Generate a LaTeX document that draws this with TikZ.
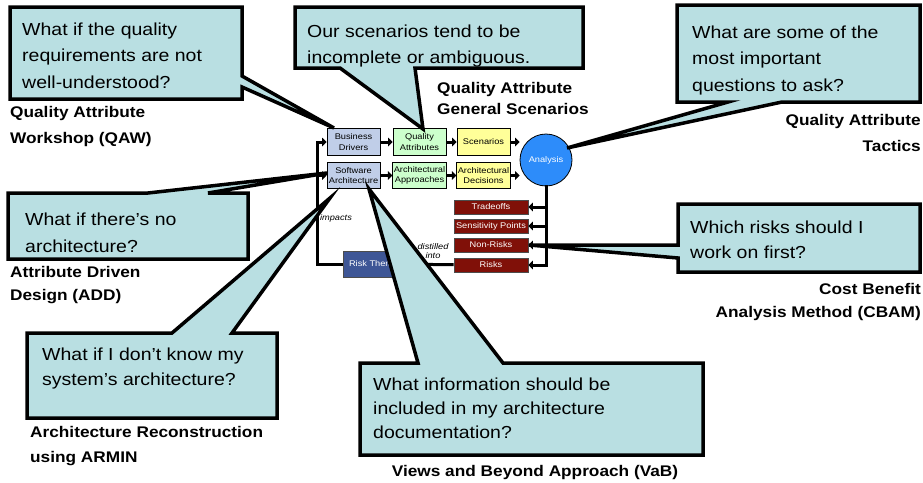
\documentclass[tikz,border=0pt]{standalone}
\usepackage{fontspec}
\setmainfont[FakeStretch=1.12]{Liberation Sans}
\usetikzlibrary{arrows.meta}

\definecolor{calloutfill}{RGB}{185,223,226}
\definecolor{driverblue}{RGB}{192,206,232}
\definecolor{approachgreen}{RGB}{204,255,204}
\definecolor{decisionyellow}{RGB}{255,255,153}
\definecolor{analysisblue}{RGB}{45,140,250}
\definecolor{riskred}{RGB}{128,16,8}
\definecolor{themeblue}{RGB}{62,86,150}

\newcommand\qfont[1]{\fontsize{17.4}{#1}\selectfont}
\newcommand\mfont[1]{\fontsize{15.4}{#1}\selectfont\bfseries}
\newcommand\sfont{\fontsize{8.25}{10.5}\selectfont}

\begin{document}
\begin{tikzpicture}[x=1pt,y=-1pt,
  flowbox/.style={draw=black,line width=0.8pt,minimum width=53pt,minimum height=26.5pt,
    inner sep=1pt,align=center,font=\sfont},
  riskbox/.style={draw=black!70,line width=0.6pt,fill=riskred,text=white,
    minimum width=74pt,minimum height=14pt,inner sep=0pt,font=\sfont},
  flow/.style={line width=3pt,-{Triangle[length=4.5pt,width=8.5pt]}},
  callout/.style={draw=black,line width=3.5pt,fill=calloutfill},
  question/.style={anchor=base west,align=left,inner sep=0pt,font=\qfont{25}},
  method/.style={anchor=base west,align=left,inner sep=0pt,font=\mfont{24}},
  methodr/.style={anchor=base east,align=right,inner sep=0pt,font=\mfont{24}},
  remark/.style={inner sep=0pt,font=\sfont\itshape}]

  \useasboundingbox (0,0) rectangle (923,482);

  % Define nodes for the analysis flow
  \node[flowbox,fill=driverblue] (bd) at (353.5,142) {Business\\Drivers};
  \node[flowbox,fill=driverblue] (sa) at (353.5,175.5) {Software\\Architecture};
  \node[flowbox,fill=approachgreen] (qa) at (419.5,142) {Quality\\Attributes};
  \node[flowbox,fill=approachgreen] (aa) at (419.5,175.5) {Architectural\\Approaches};
  \node[flowbox,fill=decisionyellow] (sc) at (483.5,142) {Scenarios};
  \node[flowbox,fill=decisionyellow] (ad) at (483.5,175.5) {Architectural\\Decisions};
  \node[circle,draw=black,line width=0.8pt,fill=analysisblue,text=white,minimum size=52pt,
    inner sep=0pt,font=\sfont] (an) at (546,160) {Analysis};
  \node[riskbox] (to) at (491,207) {Tradeoffs};
  \node[riskbox] (sp) at (491,226) {Sensitivity Points};
  \node[riskbox] (nr) at (491,245) {Non-Risks};
  \node[riskbox] (rk) at (491,265) {Risks};
  \node[draw=black!70,line width=0.6pt,fill=themeblue,text=white,minimum width=66pt,
    minimum height=26pt,inner sep=0pt,font=\sfont] (rt) at (376,264) {Risk Themes};
  \coordinate (corner) at (317,142);

  % Draw arrows
  \draw[flow] (bd) -- (qa);
  \draw[flow] (qa) -- (sc);
  \draw[flow] (sc.east) -- (sc.east -| an.west);
  \draw[flow] (sa) -- (aa);
  \draw[flow] (aa) -- (ad);
  \draw[flow] (ad.east) -- (ad.east -| an.west);
  \draw[line width=3pt,line cap=rect] (an.south) -- (an.south |- rk.east);
  \foreach \b in {to,sp,nr,rk}
    \draw[flow] (an.south |- \b.east) -- (\b.east);
  \draw[flow] (rk) -- (rt);
  \node[remark,align=center,font=\fontsize{8.25}{8.5}\selectfont\itshape] (dist) at (433,251) {distilled\\into};
  \draw[flow] (rt.west) -| (corner) -- (bd.west);
  \draw[flow] (corner |- sa.west) -- (sa.west);
  \node[remark] (imp) at (336,218) {impacts};

  % Method names (base anchor sits on the last line)
  \node[method,font=\mfont{26}] (lqaw) at (10,143) {Quality Attribute\\Workshop (QAW)};
  \node[method,font=\mfont{21}] (lqags) at (437,114) {Quality Attribute\\General Scenarios};
  \node[methodr,font=\mfont{26}] (ltac) at (921,151) {Quality Attribute\\Tactics};
  \node[method,font=\mfont{23}] (ladd) at (10,300) {Attribute Driven\\Design (ADD)};
  \node[method,font=\mfont{25}] (larmin) at (30,462) {Architecture Reconstruction\\using ARMIN};
  \node[method,anchor=base] (lvab) at (535,476) {Views and Beyond Approach (VaB)};
  \node[methodr,font=\mfont{23}] (lcbam) at (921,317) {Cost Benefit\\Analysis Method (CBAM)};

  % Callouts
  \draw[callout] (10,7) -- (242,7) -- (242,76) -- (334,128) -- (242,87) -- (242,99) -- (10,99) -- cycle;
  \node[question,font=\qfont{26.5}] (qqaw) at (22,88) {What if the quality\\requirements are not\\well-understood?};

  \draw[callout] (295,7) -- (583,7) -- (583,68) -- (415,68) -- (423,129) -- (340,68) -- (295,68) -- cycle;
  \node[question,font=\qfont{26}] (qqags) at (307,63) {Our scenarios tend to be\\incomplete or ambiguous.};

  \draw[callout] (677,5) -- (920,5) -- (920,102) -- (782,102) -- (567,148) -- (728,102) -- (677,102) -- cycle;
  \node[question,font=\qfont{26.5}] (qtac) at (692,91) {What are some of the\\most important\\questions to ask?};

  \draw[callout] (8,193) -- (148,193) -- (327,173) -- (208,193) -- (248,193) -- (248,259) -- (8,259) -- cycle;
  \node[question,font=\qfont{27}] (qadd) at (25,252) {What if there’s no\\architecture?};

  \draw[callout] (27,333) -- (172,333) -- (330,198) -- (232,333) -- (277,333) -- (277,418) -- (27,418) -- cycle;
  \node[question] (qarmin) at (42,385) {What if I don’t know my\\system’s architecture?};

  \draw[callout] (360,363) -- (418,363) -- (369,189) -- (503,363) -- (703,363) -- (703,455) -- (360,455) -- cycle;
  \node[question,font=\qfont{24}] (qvab) at (373,438) {What information should be\\included in my architecture\\documentation?};

  \draw[callout] (678,204) -- (920,204) -- (920,272) -- (678,272) -- (678,258) -- (529,245) -- (678,245) -- cycle;
  \node[question] (qcbam) at (690,258) {Which risks should I\\work on first?};

\end{tikzpicture}
\end{document}
